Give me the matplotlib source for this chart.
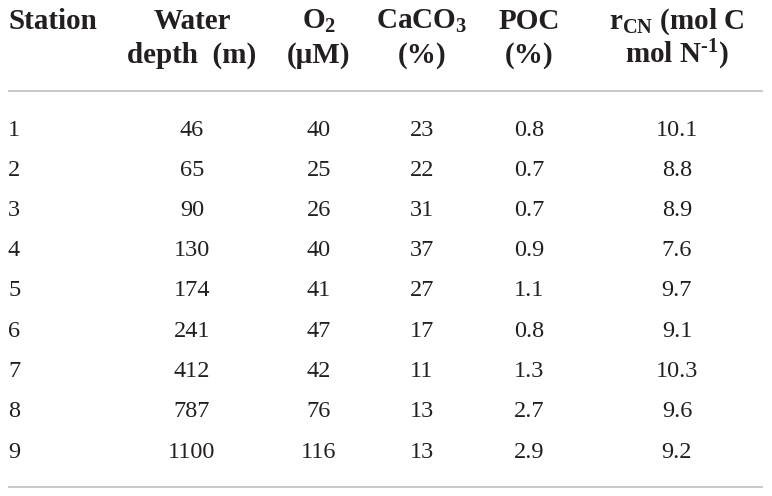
import matplotlib
matplotlib.use("Agg")
import matplotlib.pyplot as plt

stations = ["1", "2", "3", "4", "5", "6", "7", "8", "9"]
water_depth = [46, 65, 90, 130, 174, 241, 412, 787, 1100]
o2 = [40, 25, 26, 40, 41, 47, 42, 76, 116]
caco3 = [23, 22, 31, 37, 27, 17, 11, 13, 13]
poc = [0.8, 0.7, 0.7, 0.9, 1.1, 0.8, 1.3, 2.7, 2.9]
rcn = [10.1, 8.8, 8.9, 7.6, 9.7, 9.1, 10.3, 9.6, 9.2]

header1 = ["Station", "Water", r"O$_\mathbf{2}$", r"CaCO$_\mathbf{3}$", "POC", r"r$_\mathbf{CN}$ (mol C"]
header2 = ["", "depth  (m)", "(\u03bcM)", "(%)", "(%)", r"mol N$^\mathbf{{\text{-}}1}$)"]

plt.rcParams["mathtext.fontset"] = "custom"
plt.rcParams["mathtext.rm"] = "Liberation Serif"
plt.rcParams["mathtext.bf"] = "Liberation Serif:bold"
plt.rcParams["mathtext.default"] = "bf"

W, H = 772, 496
fig = plt.figure(figsize=(W / 100, H / 100), dpi=100)
ax = fig.add_axes([0, 0, 1, 1])
ax.set_xlim(0, W)
ax.set_ylim(H, 0)
ax.axis("off")

txt = "#231f20"
col_x = [8, 192, 319, 422, 529, 677]
col_ha = ["left", "center", "center", "center", "center", "center"]

hfont = dict(family="Liberation Serif", weight="bold", size=21, color=txt)
for x, ha, h1, h2 in zip(col_x, col_ha, header1, header2):
    ax.text(x, 29, h1, ha=ha, va="baseline", **hfont)
    if h2:
        ax.text(x, 63, h2, ha=ha, va="baseline", **hfont)

line_c = "#c8c8c8"
ax.plot([8, 763], [91, 91], color=line_c, lw=1.4, solid_capstyle="butt")
ax.plot([8, 763], [487, 487], color=line_c, lw=1.4, solid_capstyle="butt")

dfont = dict(family="Liberation Serif", size=17.5, color=txt)
y0, dy = 135.5, 40.25
for i in range(len(stations)):
    y = y0 + i * dy
    vals = [stations[i], str(water_depth[i]), str(o2[i]), str(caco3[i]),
            f"{poc[i]:.1f}", f"{rcn[i]:.1f}"]
    for x, ha, v in zip(col_x, col_ha, vals):
        ax.text(x, y, v, ha=ha, va="baseline", **dfont)

fig.savefig("out.png", dpi=100, facecolor="white")
